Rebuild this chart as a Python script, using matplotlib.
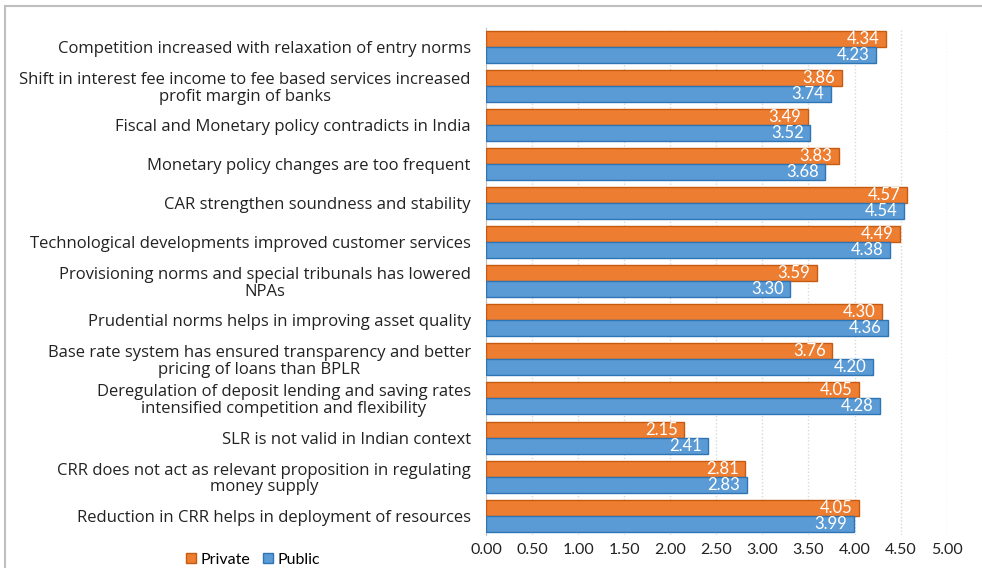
import matplotlib
matplotlib.use("Agg")
import matplotlib.pyplot as plt
import numpy as np
from matplotlib.patches import Rectangle

categories = [
    "Competition increased with relaxation of entry norms",
    "Shift in interest fee income to fee based services increased\nprofit margin of banks",
    "Fiscal and Monetary policy contradicts in India",
    "Monetary policy changes are too frequent",
    "CAR strengthen soundness and stability",
    "Technological developments improved customer services",
    "Provisioning norms and special tribunals has lowered\nNPAs",
    "Prudential norms helps in improving asset quality",
    "Base rate system has ensured transparency and better\npricing of loans than BPLR",
    "Deregulation of deposit lending and saving rates\nintensified competition and flexibility",
    "SLR is not valid in Indian context",
    "CRR does not act as relevant proposition in regulating\nmoney supply",
    "Reduction in CRR helps in deployment of resources",
]
private = [4.34, 3.86, 3.49, 3.83, 4.57, 4.49, 3.59, 4.30, 3.76, 4.05, 2.15, 2.81, 4.05]
public = [4.23, 3.74, 3.52, 3.68, 4.54, 4.38, 3.30, 4.36, 4.20, 4.28, 2.41, 2.83, 3.99]
xticks = [0.0, 0.5, 1.0, 1.5, 2.0, 2.5, 3.0, 3.5, 4.0, 4.5, 5.0]

plt.rcParams['font.family'] = ['Lato', 'DejaVu Sans']

fig = plt.figure(figsize=(9.82, 5.68), dpi=100)
ax = fig.add_axes([0.495, 0.058, 0.469, 0.893])

n = len(categories)
y = np.arange(n)
h = 0.41
orange = '#ED7D31'
blue = '#5B9BD5'
b1 = ax.barh(y - h / 2, private, height=h, color=orange, edgecolor='#C55A11', linewidth=1.0, zorder=3)
b2 = ax.barh(y + h / 2, public, height=h, color=blue, edgecolor='#2E75B6', linewidth=1.0, zorder=3)

for bars, vals in ((b1, private), (b2, public)):
    for rect, v in zip(bars, vals):
        ax.text(v - 0.07, rect.get_y() + rect.get_height() / 2, f"{v:.2f}",
                ha='right', va='center', color='white', fontsize=12, zorder=4)

ax.set_ylim(n - 0.5, -0.5)
ax.set_xlim(0, 5.0)
ax.set_xticks(xticks)
ax.set_xticklabels([f"{t:.2f}" for t in xticks], fontsize=11.5, color='#222222')
ax.set_yticks(y)
ax.set_yticklabels(categories, fontsize=12, color='#222222', multialignment='center',
                   family=['Open Sans', 'DejaVu Sans'], linespacing=1.05)
ax.tick_params(axis='both', length=0)
ax.tick_params(axis='y', pad=11)
ax.tick_params(axis='x', pad=6)

ax.grid(axis='x', color='#D9D9D9', linestyle=(0, (1, 1.5)), linewidth=1, zorder=0)
for s in ['top', 'right', 'bottom']:
    ax.spines[s].set_visible(False)
ax.spines['left'].set_color('#BFBFBF')

leg = fig.legend([b1, b2], ['Private', 'Public'], loc='center', bbox_to_anchor=(0.258, 0.014),
                 ncol=2, frameon=False, fontsize=11.5, handlelength=0.6, handleheight=0.6,
                 columnspacing=0.8, handletextpad=0.3)

fig.patches.append(Rectangle((0.005, -0.01), 1.1, 1.0, transform=fig.transFigure,
                             fill=False, edgecolor='#BFBFBF', linewidth=1.5))

fig.savefig('out.png', dpi=100)
